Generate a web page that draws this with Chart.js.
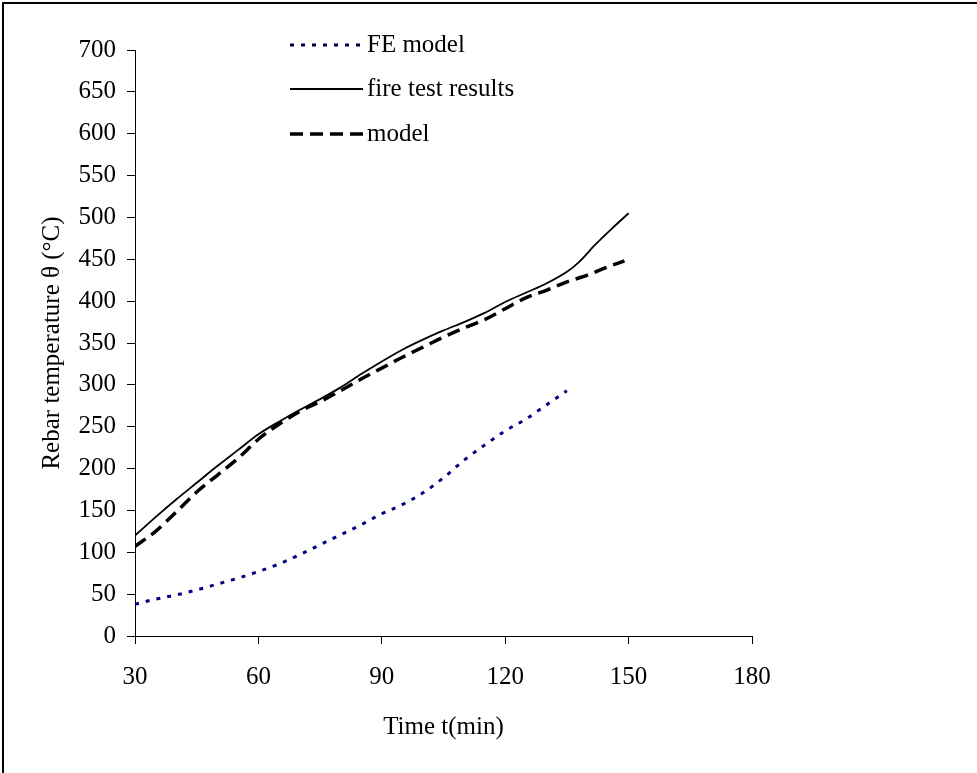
<!DOCTYPE html>
<html>
<head>
<meta charset="utf-8">
<script src="https://cdn.jsdelivr.net/npm/chart.js@4.4.1/dist/chart.umd.min.js"></script>
<style>
  html, body { margin: 0; padding: 0; background: #fff; }
  #wrap { position: relative; width: 977px; height: 773px; overflow: hidden; }
  #frame { position: absolute; left: 2px; top: 2px; width: 1000px; height: 800px;
           border-left: 2px solid #000; border-top: 2px solid #000; pointer-events: none; }
  canvas { position: absolute; left: 0; top: 0; }
</style>
</head>
<body>
<div id="wrap">
  <canvas id="c" width="977" height="773"></canvas>
  <div id="frame"></div>
</div>
<script>
// ---- data ----
const seriesNames = ["FE model", "fire test results", "model"];

const feTime = [30, 35, 40, 45, 50, 55, 60, 65, 70, 75, 80, 85, 90, 95, 100, 105, 110, 115, 120, 125, 130, 135];
const feTemp = [38, 44, 49, 55, 62, 69, 77, 86, 97, 109, 121, 133, 146, 157, 171, 189, 210, 228, 245, 259, 276, 293];

const testTime = [30, 35, 40, 45, 50, 55, 60, 65, 70, 75, 80, 85, 90, 95, 100, 105, 110, 115, 120, 125, 130, 135, 138, 142, 146, 150];
const testTemp = [120, 142, 163, 183, 203, 222, 241, 256, 270, 283, 297, 313, 328, 342, 354, 365, 375, 386, 399, 410, 421, 435, 447, 468, 487, 505];

const modelTime = [30, 35, 40, 45, 50, 55, 60, 65, 70, 75, 80, 85, 90, 95, 100, 105, 110, 115, 120, 125, 130, 135, 140, 145, 149];
const modelTemp = [107, 125, 148, 172, 192, 212, 235, 253, 268, 280, 293, 307, 320, 333, 345, 357, 368, 378, 391, 404, 413, 423, 431, 441, 448];

const xTicks = [30, 60, 90, 120, 150, 180];
const yTicks = [0, 50, 100, 150, 200, 250, 300, 350, 400, 450, 500, 550, 600, 650, 700];

const xTitle = "Time t(min)";
const yTitle = "Rebar temperature θ (°C)";

// ---- build ----
const pts = (xs, ys) => xs.map((x, i) => ({ x: x, y: ys[i] }));
const FONT = "'Liberation Serif', 'Times New Roman', serif";

const legendPlugin = {
  id: 'insideLegend',
  afterDraw(chart) {
    const ctx = chart.ctx;
    const rows = [45, 89, 134];
    chart.data.datasets.forEach((ds, i) => {
      const y = rows[i];
      ctx.save();
      ctx.beginPath();
      ctx.setLineDash(ds.legendDash || []);
      ctx.lineWidth = ds.borderWidth;
      ctx.strokeStyle = ds.legendColor || ds.borderColor;
      ctx.lineCap = 'butt';
      ctx.moveTo(290, y);
      ctx.lineTo(363, y);
      ctx.stroke();
      ctx.setLineDash([]);
      ctx.fillStyle = '#000';
      ctx.font = "25px " + FONT;
      ctx.textBaseline = 'middle';
      ctx.textAlign = 'left';
      ctx.fillText(ds.label, 367, y);
      ctx.restore();
    });
  }
};

new Chart(document.getElementById('c'), {
  type: 'line',
  data: {
    datasets: [
      { label: seriesNames[0], data: pts(feTime, feTemp), borderColor: '#000080', legendColor: '#000040',
        borderWidth: 3, borderDash: [4, 7], legendDash: [4, 7], pointRadius: 0, fill: false,
        cubicInterpolationMode: 'monotone' },
      { label: seriesNames[1], data: pts(testTime, testTemp), borderColor: '#000',
        borderWidth: 1.8, pointRadius: 0, fill: false, cubicInterpolationMode: 'monotone' },
      { label: seriesNames[2], data: pts(modelTime, modelTemp), borderColor: '#000',
        borderWidth: 3.5, borderDash: [13, 7], legendDash: [13, 7], pointRadius: 0, fill: false,
        cubicInterpolationMode: 'monotone' }
    ]
  },
  options: {
    responsive: false,
    animation: false,
    events: [],
    layout: { padding: { left: 0, top: 50, right: 225, bottom: 0 } },
    plugins: { legend: { display: false }, tooltip: { enabled: false } },
    scales: {
      x: {
        type: 'linear', min: xTicks[0], max: xTicks[xTicks.length - 1],
        afterFit(s) { s.height = 137; },
        afterBuildTicks(s) { s.ticks = xTicks.map(v => ({ value: v })); },
        grid: { drawOnChartArea: false, tickLength: 8, color: '#000', lineWidth: 1 },
        border: { color: '#000', width: 1 },
        ticks: { color: '#000', padding: 18, maxRotation: 0, font: { family: FONT, size: 25 } },
        title: { display: true, text: xTitle, color: '#000', font: { family: FONT, size: 25 },
                 padding: { top: 0, bottom: 31 } }
      },
      y: {
        type: 'linear', min: yTicks[0], max: yTicks[yTicks.length - 1],
        afterFit(s) { s.width = 135; },
        afterBuildTicks(s) { s.ticks = yTicks.map(v => ({ value: v })); },
        grid: { drawOnChartArea: false, tickLength: 8, color: '#000', lineWidth: 1 },
        border: { color: '#000', width: 1 },
        ticks: { color: '#000', padding: 11, font: { family: FONT, size: 25 } },
        title: { display: true, text: yTitle, color: '#000', font: { family: FONT, size: 25 },
                 padding: { top: 37, bottom: 0 } }
      }
    }
  },
  plugins: [legendPlugin]
});
</script>
</body>
</html>
